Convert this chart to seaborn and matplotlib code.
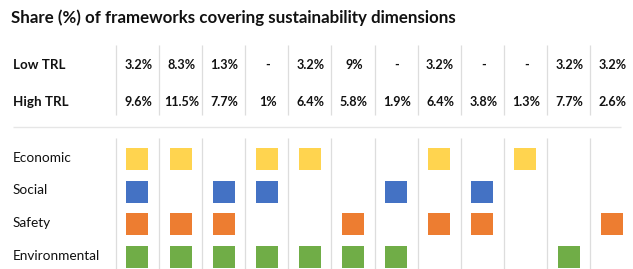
import numpy as np
import pandas as pd
import matplotlib
matplotlib.use("Agg")
import matplotlib.pyplot as plt
import seaborn as sns

# ---------------- data ----------------
title = "Share (%) of frameworks covering sustainability dimensions"
column_ids = list(range(1, 13))
low_trl = ["3.2%", "8.3%", "1.3%", "-", "3.2%", "9%", "-", "3.2%", "-", "-", "3.2%", "3.2%"]
high_trl = ["9.6%", "11.5%", "7.7%", "1%", "6.4%", "5.8%", "1.9%", "6.4%", "3.8%", "1.3%", "7.7%", "2.6%"]
row_labels_top = ["Low TRL", "High TRL"]
dimensions = ["Economic", "Social", "Safety", "Environmental"]
economic = [1, 1, 0, 1, 1, 0, 0, 1, 0, 1, 0, 0]
social = [1, 0, 1, 1, 0, 0, 1, 0, 1, 0, 0, 0]
safety = [1, 1, 1, 0, 0, 1, 0, 1, 1, 0, 0, 1]
environmental = [1, 1, 1, 1, 1, 1, 1, 0, 0, 0, 1, 0]
colors = {"Economic": "#FFD44F", "Social": "#4472C4", "Safety": "#ED7D31", "Environmental": "#70AD47"}

presence = dict(zip(dimensions, [economic, social, safety, environmental]))
records = []
for r, dim in enumerate(dimensions):
    for c, flag in enumerate(presence[dim]):
        if flag:
            records.append({"col": c, "row": r, "dim": dim})
df = pd.DataFrame(records)

# ---------------- style ----------------
sns.set_style("white")
plt.rcParams["font.family"] = ["Lato", "DejaVu Sans"]
TXT = "#111111"
GRID = "#DDDDDD"

W, H, DPI = 633, 269, 100
fig = plt.figure(figsize=(W / DPI, H / DPI), dpi=DPI)

COL0, STEP = 137.5, 43.1          # pixel layout of columns
ROW0, RSTEP = 159.0, 32.5         # pixel layout of dimension rows
TOP_H = 130                       # pixel height of the top panel


def px2x(px):
    return (px - COL0) / STEP


def px2row(py):
    return (py - ROW0) / RSTEP


ncol = len(column_ids)
xlim = (px2x(0), px2x(W))

# top panel: table of shares (y in pixels)
ax_t = fig.add_axes([0, 1 - TOP_H / H, 1, TOP_H / H])
ax_t.set_xlim(*xlim)
ax_t.set_ylim(TOP_H, 0)
ax_t.set_axis_off()

# bottom panel: coverage squares
ax_b = fig.add_axes([0, 0, 1, (H - TOP_H) / H])
side_pt = 22 * 72 / DPI
sns.scatterplot(data=df, x="col", y="row", hue="dim", palette=colors, marker="s",
                s=side_pt ** 2, linewidth=0, legend=False, ax=ax_b, zorder=3)
ax_b.set_xlim(*xlim)
ax_b.set_ylim(px2row(H), px2row(TOP_H))
ax_b.set_axis_off()

renderer = fig.canvas.get_renderer()


def fit(txt, target_px):
    w = txt.get_window_extent(renderer=renderer).width
    txt.set_fontsize(txt.get_fontsize() * target_px / w)
    return txt.get_fontsize()


# title
t = ax_t.text(px2x(11), 23, title, fontsize=12, fontweight="bold", color=TXT,
              ha="left", va="baseline")
fit(t, 441)

# sizes fitted from reference text widths
probe = ax_t.text(0, 0, "High TRL", fontsize=10, fontweight="bold")
lab_bold_fs = fit(probe, 55)
probe.remove()
probe = ax_t.text(0, 0, "11.5%", fontsize=10, fontweight="bold")
val_fs = fit(probe, 35)
probe.remove()
probe = ax_t.text(0, 0, "Environmental", fontsize=10)
lab_fs = fit(probe, 87)
probe.remove()

# top table
for label, vals, base in zip(row_labels_top, [low_trl, high_trl], [69, 105.5]):
    ax_t.text(px2x(13), base, label, fontsize=lab_bold_fs, fontweight="bold",
              color=TXT, ha="left", va="baseline")
    for c, v in enumerate(vals):
        ax_t.text(c + 0.02, base, v, fontsize=val_fs, fontweight="bold",
                  color=TXT, ha="center", va="baseline")

ax_t.vlines(np.arange(ncol) - 0.5, 45, 115, color=GRID, lw=0.9)
ax_t.hlines(127, px2x(13), px2x(621), color="#E6E6E6", lw=1.0)

# bottom labels and dividers
for r, dim in enumerate(dimensions):
    ax_b.text(px2x(13), r + 3 / RSTEP, dim, fontsize=lab_fs, color=TXT,
              ha="left", va="baseline")
ax_b.vlines(np.arange(ncol) - 0.5, px2row(138), px2row(H + 5), color=GRID, lw=0.9, zorder=1)

fig.savefig("out.png", dpi=DPI)
